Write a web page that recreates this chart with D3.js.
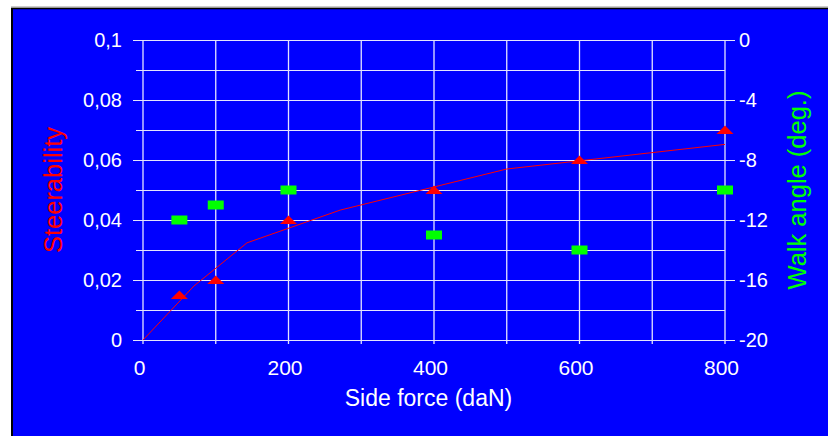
<!DOCTYPE html>
<html><head><meta charset="utf-8">
<script src="https://cdn.jsdelivr.net/npm/d3@7"></script>
<style>html,body{margin:0;padding:0;background:#fff;}svg{display:block;}</style>
</head><body>
<script>
// Data
const sideForce = [50, 100, 200, 400, 600, 800];
const steerability = [0.015, 0.02, 0.04, 0.05, 0.06, 0.07];
const walkAngle = [-12, -11, -10, -13, -14, -10];
const trendForce = [0, 70, 143, 271, 500, 800];
const trendSteer = [0, 0.018, 0.0324, 0.0433, 0.057, 0.0652];
const xTicks = [0, 200, 400, 600, 800];
const yLeftTicks = [0, 0.02, 0.04, 0.06, 0.08, 0.1];
const yRightTicks = [0, -4, -8, -12, -16, -20];

const W = 828, H = 436;
const svg = d3.select("body").append("svg").attr("width", W).attr("height", H);
svg.append("rect").attr("width", W).attr("height", H).attr("fill", "#fff");
svg.append("rect").attr("x", 12).attr("y", 8).attr("width", W - 12).attr("height", H - 8).attr("fill", "#0000ff");
svg.append("line").attr("x1", 11).attr("x2", W).attr("y1", 7).attr("y2", 7).attr("stroke", "#999").attr("stroke-width", 1);
svg.append("line").attr("x1", 11).attr("x2", W).attr("y1", 8.5).attr("y2", 8.5).attr("stroke", "#000").attr("stroke-width", 1.5);
svg.append("line").attr("x1", 12).attr("x2", 12).attr("y1", 8).attr("y2", H).attr("stroke", "#000").attr("stroke-width", 2);

const x = d3.scaleLinear().domain([0, 800]).range([143, 725]);
const yL = d3.scaleLinear().domain([0, 0.1]).range([340, 40]);
const yR = d3.scaleLinear().domain([-20, 0]).range([340, 40]);

const font = "'Liberation Sans', Arial, sans-serif";
const gridCol = "#e4e4ff";

// horizontal gridlines every 0.01
const hLines = d3.range(0, 11).map(i => i / 100);
svg.append("g").selectAll("line").data(hLines).join("line")
  .attr("x1", (d, i) => i % 2 === 0 ? 133 : 136)
  .attr("x2", (d, i) => i % 2 === 0 ? 735 : 725)
  .attr("y1", d => Math.round(yL(d)) + 0.5).attr("y2", d => Math.round(yL(d)) + 0.5)
  .attr("stroke", gridCol).attr("stroke-width", 1);

// vertical gridlines every 100
const vLines = d3.range(0, 9).map(i => i * 100);
svg.append("g").selectAll("line").data(vLines).join("line")
  .attr("x1", d => x(d)).attr("x2", d => x(d))
  .attr("y1", 40).attr("y2", 344)
  .attr("stroke", gridCol).attr("stroke-width", 1.3);

// Axes (labels only)
const axL = svg.append("g").attr("transform", "translate(143,0)")
  .call(d3.axisLeft(yL).tickValues(yLeftTicks).tickSize(0).tickPadding(21)
    .tickFormat(d => String(d).replace(".", ",")));
const axR = svg.append("g").attr("transform", "translate(725,0)")
  .call(d3.axisRight(yR).tickValues(yRightTicks).tickSize(0).tickPadding(14).tickFormat(d => String(d)));
const axB = svg.append("g").attr("transform", "translate(-4,340)")
  .call(d3.axisBottom(x).tickValues(xTicks).tickSize(0).tickPadding(20).tickFormat(d => String(d)));
[axL, axR, axB].forEach(a => {
  a.select(".domain").remove();
  a.selectAll("text").attr("fill", "#fff").attr("font-family", font);
});
axL.selectAll("text").attr("font-size", 20);
axR.selectAll("text").attr("font-size", 20);
axB.selectAll("text").attr("font-size", 21);

// trend line
const line = d3.line().x(d => x(d[0])).y(d => yL(d[1]));
svg.append("path").datum(trendForce.map((f, i) => [f, trendSteer[i]]))
  .attr("d", line).attr("fill", "none").attr("stroke", "#ff0000").attr("stroke-width", 1);

// triangles
svg.append("g").selectAll("path").data(sideForce.map((f, i) => [f, steerability[i]])).join("path")
  .attr("d", d => {
    const cx = x(d[0]), cy = yL(d[1]);
    return `M${cx},${cy - 4.5}L${cx + 8.5},${cy + 4}L${cx - 8.5},${cy + 4}Z`;
  })
  .attr("fill", "#ff0000");

// green rects
svg.append("g").selectAll("rect").data(sideForce.map((f, i) => [f, walkAngle[i]])).join("rect")
  .attr("x", d => x(d[0]) - 8).attr("y", d => yR(d[1]) - 4.5)
  .attr("width", 16).attr("height", 9).attr("fill", "#00ff00");

// axis titles
svg.append("text").attr("transform", "translate(62,190) rotate(-90)")
  .attr("text-anchor", "middle").attr("font-family", font).attr("font-size", 25.5)
  .attr("fill", "#ff0000").text("Steerability");
svg.append("text").attr("transform", "translate(806,190) rotate(-90)")
  .attr("text-anchor", "middle").attr("font-family", font).attr("font-size", 25.5)
  .attr("fill", "#00ff00").text("Walk angle (deg.)");
svg.append("text").attr("x", 428.5).attr("y", 406)
  .attr("text-anchor", "middle").attr("font-family", font).attr("font-size", 23)
  .attr("fill", "#fff").text("Side force (daN)");
</script>
</body></html>
